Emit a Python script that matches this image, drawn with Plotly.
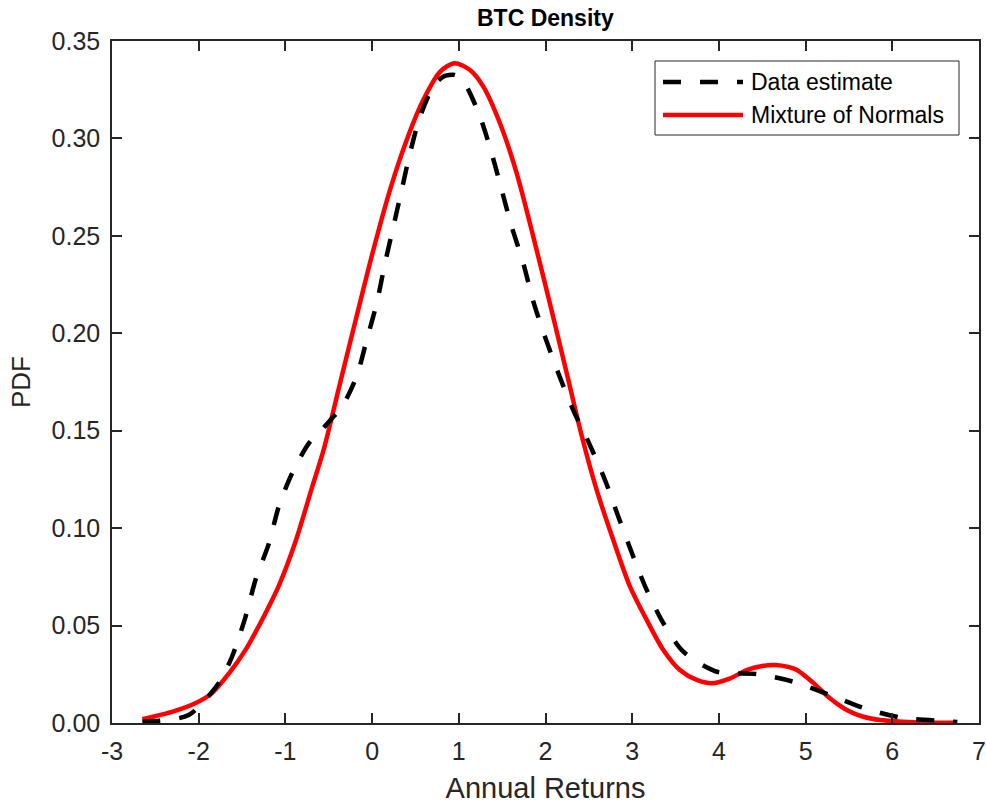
import plotly.graph_objects as go

# Mixture of Normals (red solid)
mix_x = [-2.65, -2.3, -2.04, -1.85, -1.65, -1.46, -1.27, -1.08, -0.89, -0.69, -0.56, -0.37,
         -0.18, 0.014, 0.206, 0.399, 0.59, 0.783, 0.95, 1.129, 1.283, 1.475, 1.668, 1.859,
         2.05, 2.245, 2.42, 2.59, 2.782, 2.975, 3.167, 3.359, 3.55, 3.744, 3.917, 4.13,
         4.32, 4.5, 4.65, 4.8, 4.9, 5.089, 5.28, 5.474, 5.666, 5.858, 6.24, 6.72]
mix_y = [0.0019, 0.0058, 0.0101, 0.0152, 0.0255, 0.0375, 0.0529, 0.070, 0.0922, 0.1213, 0.140, 0.1743,
         0.2085, 0.2427, 0.2735, 0.2992, 0.3197, 0.3342, 0.3386, 0.3351, 0.3266, 0.3078, 0.2821, 0.2496,
         0.2154, 0.1795, 0.147, 0.1196, 0.0939, 0.070, 0.0529, 0.0375, 0.0272, 0.0221, 0.0204, 0.0229,
         0.0272, 0.0293, 0.0298, 0.0288, 0.0272, 0.0206, 0.0127, 0.0067, 0.0032, 0.0015, 0.0004, 0.0001]

# Data estimate (black dashed)
est_x = [-2.65, -2.45, -2.115, -1.77, -1.616, -1.46, -1.345, -1.19, -1.077, -0.924, -0.73, -0.55,
         -0.45, -0.35, -0.18, -0.062, 0.053, 0.149, 0.245, 0.341, 0.437, 0.553, 0.706, 0.82, 0.95,
         1.014, 1.09, 1.245, 1.379, 1.495, 1.61, 1.744, 1.86, 1.994, 2.148, 2.32, 2.49, 2.686,
         2.84, 3.013, 3.167, 3.36, 3.59, 3.975, 4.436, 4.858, 5.28, 5.685, 6.108, 6.59, 6.75]
est_y = [0.0007, 0.0012, 0.0041, 0.0204, 0.034, 0.0545, 0.0734, 0.0922, 0.111, 0.128, 0.1435, 0.152,
         0.157, 0.162, 0.1777, 0.1966, 0.2154, 0.236, 0.2547, 0.2735, 0.2924, 0.3112, 0.3266, 0.3317, 0.3326,
         0.3309, 0.3266, 0.3112, 0.2924, 0.2735, 0.2547, 0.236, 0.2162, 0.1982, 0.1795, 0.1606, 0.1448, 0.1247,
         0.1059, 0.0853, 0.0683, 0.0512, 0.0366, 0.0263, 0.0251, 0.0212, 0.0144, 0.0075, 0.0027, 0.001, 0.0005]

x_ticks = [-3, -2, -1, 0, 1, 2, 3, 4, 5, 6, 7]
y_ticks = [0.00, 0.05, 0.10, 0.15, 0.20, 0.25, 0.30, 0.35]

title_text = "BTC Density"
x_label = "Annual Returns"
y_label = "PDF"
legend_names = ["Data estimate", "Mixture of Normals"]

FONT = "Liberation Sans, Arial, Helvetica, sans-serif"
AX = "#262626"

fig = go.Figure()
fig.add_trace(go.Scatter(x=mix_x, y=mix_y, mode="lines", name=legend_names[1],
                         line=dict(color="#ff0000", width=4.5, shape="spline", smoothing=0.8),
                         showlegend=False))
fig.add_trace(go.Scatter(x=est_x, y=est_y, mode="lines", name=legend_names[0],
                         line=dict(color="#000000", width=4.5, dash="18px,19px", shape="spline", smoothing=0.8),
                         showlegend=False))

axis_common = dict(showgrid=False, zeroline=False, showline=True, linecolor=AX, linewidth=1.5,
                   mirror="ticks", ticks="inside", ticklen=10, tickwidth=1.5, tickcolor=AX,
                   automargin=False,
                   tickfont=dict(family=FONT, size=25, color=AX))

fig.update_xaxes(range=[-3, 7], tickvals=x_ticks, ticktext=[str(v) for v in x_ticks],
                 title=dict(text=x_label, font=dict(family=FONT, size=29, color=AX), standoff=14),
                 ticklabelstandoff=5, **axis_common)
fig.update_yaxes(range=[0, 0.35], tickvals=y_ticks, ticktext=[f"{v:.2f}" for v in y_ticks],
                 title=dict(text=y_label, font=dict(family=FONT, size=26, color=AX), standoff=13),
                 ticklabelstandoff=5, **axis_common)

# Legend box (drawn manually to match long sample lines)
lx0, lx1, ly0, ly1 = 655, 959, 61, 135
W, H = 986, 805
L, R, T, B = 112, 7, 41, 82
pw, ph = W - L - R, H - T - B

def px2paper_x(px):
    return (px - L) / pw

def px2paper_y(py):
    return 1 - (py - T) / ph

fig.add_shape(type="rect", xref="paper", yref="paper",
              x0=px2paper_x(lx0), x1=px2paper_x(lx1), y0=px2paper_y(ly1), y1=px2paper_y(ly0),
              line=dict(color=AX, width=1), fillcolor="white", layer="above")
fig.add_shape(type="line", xref="paper", yref="paper",
              x0=px2paper_x(663), x1=px2paper_x(743), y0=px2paper_y(82), y1=px2paper_y(82),
              line=dict(color="black", width=4.5, dash="18px,19px"), layer="above")
fig.add_shape(type="line", xref="paper", yref="paper",
              x0=px2paper_x(663), x1=px2paper_x(743), y0=px2paper_y(115), y1=px2paper_y(115),
              line=dict(color="#ff0000", width=4.5), layer="above")
for name, py in zip(legend_names, [82, 115]):
    fig.add_annotation(x=px2paper_x(749), y=px2paper_y(py), xref="paper", yref="paper",
                       text=name, showarrow=False, xanchor="left", yanchor="middle",
                       font=dict(family=FONT, size=23, color="black"))

# Title as an annotation for exact size/position control
fig.add_annotation(x=0.5, y=px2paper_y(18), xref="paper", yref="paper",
                   text=f"<b>{title_text}</b>", showarrow=False, xanchor="center", yanchor="middle",
                   font=dict(family=FONT, size=23, color="black"))

fig.update_layout(
    width=W, height=H,
    margin=dict(l=L, r=R, t=T, b=B, autoexpand=False),
    paper_bgcolor="white", plot_bgcolor="white",
    showlegend=False,
)

fig.write_html("out.html", config={"displayModeBar": False},
               post_script="document.body.style.margin='0px';document.body.style.padding='0px';")
